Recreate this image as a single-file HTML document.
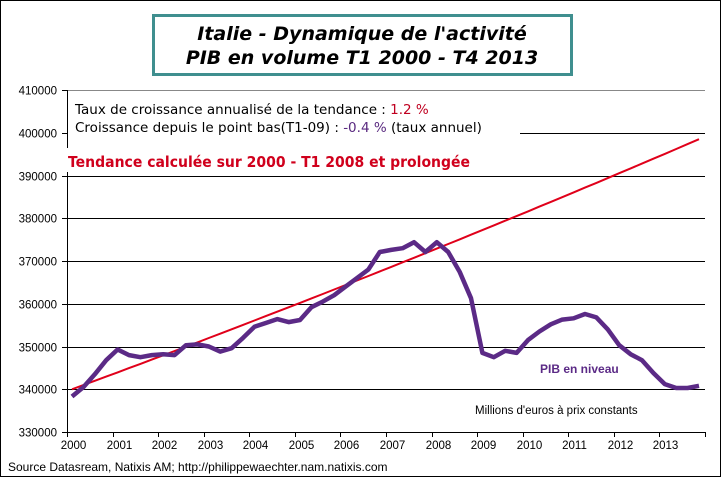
<!DOCTYPE html>
<html><head><meta charset="utf-8"><style>
body{margin:0;background:#fff}
svg{display:block}
</style></head><body>
<svg id="s" width="721" height="477" xmlns="http://www.w3.org/2000/svg" font-family="'DejaVu Sans','Liberation Sans',sans-serif">
<rect x="0.5" y="0.5" width="720" height="476" fill="#fff" stroke="#000"/>
<rect x="153.5" y="15.5" width="418" height="59" fill="#fff" stroke="#3f8f8f" stroke-width="3"/>
<text x="362" y="40" text-anchor="middle" font-size="19" font-weight="bold" font-style="italic">Italie - Dynamique de l'activité</text>
<text x="362" y="64" text-anchor="middle" font-size="19" font-weight="bold" font-style="italic">PIB en volume T1 2000 - T4 2013</text>
<g id="grid" stroke="#000" stroke-width="1"></g>
<g id="lab" font-size="11.5" font-family="'Liberation Sans',sans-serif"></g>
<rect x="70" y="96" width="450" height="40" fill="#fff"/>
<text x="75" y="114" font-size="13.5">Taux de croissance annualisé de la tendance : <tspan fill="#c00020">1.2 %</tspan></text>
<text x="75" y="132" font-size="13.5">Croissance depuis le point bas(T1-09) : <tspan fill="#5a2a80">-0.4 %</tspan> (taux annuel)</text>
<rect x="65" y="148" width="420" height="24" fill="#fff"/>
<text x="68" y="167" font-size="15" font-weight="bold" fill="#d0001c" textLength="402" lengthAdjust="spacingAndGlyphs">Tendance calculée sur 2000 - T1 2008 et prolongée</text>
<polyline id="red" fill="none" stroke="#e0001a" stroke-width="2"/>
<polyline id="pur" fill="none" stroke="#5b2a86" stroke-width="4.5" stroke-linejoin="round"/>
<text x="540" y="373" font-size="12" font-weight="bold" fill="#5b2a86" font-family="'Liberation Sans',sans-serif">PIB en niveau</text>
<text x="475" y="414" font-size="11.5" font-family="'Liberation Sans',sans-serif">Millions d'euros à prix constants</text>
<text x="8" y="471" font-size="12" font-family="'Liberation Sans',sans-serif">Source Datasream, Natixis AM;  http://philippewaechter.nam.natixis.com</text>
</svg>
<script>
var ns="http://www.w3.org/2000/svg";
function Y(v){return 432-(v-330)*4.275;}
function X(i){return 72+11.4*i;}
var g=document.getElementById('grid'),l=document.getElementById('lab');
function el(p,t,a){var e=document.createElementNS(ns,t);for(var k in a)e.setAttribute(k,a[k]);p.appendChild(e);return e;}
for(var v=330;v<=410;v+=10){var y=Math.round(Y(v))+0.5;
 if(v>330)el(g,'line',{x1:(v==400?515:67),x2:705,y1:y,y2:y,stroke:v==410?'#888':'#000'});
 el(g,'line',{x1:62,x2:67,y1:y,y2:y});
 var t=el(l,'text',{x:57,y:y+4,'text-anchor':'end'});t.textContent=v+'000';}
el(g,'line',{x1:67.5,x2:67.5,y1:90,y2:432});
el(g,'line',{x1:67,x2:705,y1:432.5,y2:432.5});
for(var i=0;i<=14;i++){var x=Math.round(67+45.57*i)+0.5;el(g,'line',{x1:x,x2:x,y1:432,y2:437});
 if(i<14){var t=el(l,'text',{x:x+6,y:449,'text-anchor':'middle'});t.textContent=2000+i;}}
var d=[338.3,340.5,343.5,346.8,349.3,348,347.5,348,348.2,348,350.3,350.5,350,348.8,349.6,352,354.6,355.5,356.4,355.7,356.2,359.2,360.5,362,364,366,368,372.1,372.6,373,374.4,372.1,374.4,372.1,367.5,361.3,348.5,347.5,349,348.5,351.5,353.5,355.2,356.3,356.6,357.6,356.8,354,350.3,348.2,346.8,343.8,341.2,340.3,340.3,340.8];
var p=[],r=[];
for(var i=0;i<d.length;i++){p.push(X(i).toFixed(1)+','+Y(d[i]).toFixed(1));
 r.push(X(i).toFixed(1)+','+Y(340*Math.pow(398.5/340,i/55)).toFixed(1));}
document.getElementById('pur').setAttribute('points',p.join(' '));
document.getElementById('red').setAttribute('points',r.join(' '));
</script>
</body></html>
